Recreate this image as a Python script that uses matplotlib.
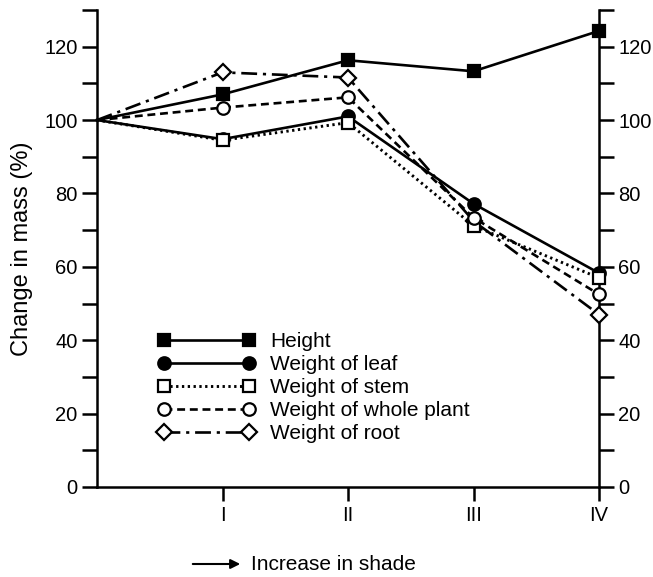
import matplotlib
matplotlib.use("Agg")
import matplotlib.pyplot as plt
from matplotlib.ticker import MultipleLocator, FixedLocator

plt.rcParams['font.family'] = ['Liberation Sans', 'DejaVu Sans']

# shade levels (0 = unshaded control)
shade_pos = [0, 1, 2, 3, 4]
shade_labels = ['I', 'II', 'III', 'IV']

height = [100, 107, 116.3, 113.3, 124.3]
leaf = [100, 94.8, 101, 77.2, 58.3]
stem = [100, 94.5, 99.3, 71.2, 57]
whole_plant = [100, 103.4, 106.2, 73.4, 52.5]
root = [100, 113, 111.6, 72.5, 47]

series_labels = ['Height', 'Weight of leaf', 'Weight of stem',
                 'Weight of whole plant', 'Weight of root']

fig = plt.figure(figsize=(6.53, 5.77), dpi=100)
ax = fig.add_axes([97 / 653, 1 - 487 / 577, (599 - 97) / 653, (487 - 10) / 577])

lw = 1.9
ms = 9
common = dict(color='black', markeredgewidth=1.6,
              markevery=[1, 2, 3, 4], clip_on=False)

ax.plot(shade_pos, height, linestyle='-', linewidth=lw, marker='s', markersize=ms,
        markerfacecolor='black', label=series_labels[0], zorder=6, **common)
ax.plot(shade_pos, leaf, linestyle='-', linewidth=lw, marker='o', markersize=ms,
        markerfacecolor='black', label=series_labels[1], zorder=4, **common)
ax.plot(shade_pos, stem, linestyle=(0, (0.8, 1.2)), linewidth=lw * 1.1, marker='s',
        markersize=ms, markerfacecolor='white', label=series_labels[2], zorder=5, **common)
ax.plot(shade_pos, whole_plant, linestyle=(0, (3, 1.8)), linewidth=lw, marker='o',
        markersize=ms, markerfacecolor='white', label=series_labels[3], zorder=5, **common)
ax.plot(shade_pos, root, linestyle=(0, (6, 2.2, 1.2, 2.2)), linewidth=lw, marker='D',
        markersize=ms - 1, markerfacecolor='white', label=series_labels[4], zorder=3, **common)

ax.set_xlim(0, 4)
ax.set_ylim(0, 130)

ax.spines['top'].set_visible(False)
for side in ['left', 'bottom', 'right']:
    ax.spines[side].set_linewidth(1.8)

ax.xaxis.set_major_locator(FixedLocator(shade_pos[1:]))
ax.set_xticklabels(shade_labels)
ax.yaxis.set_major_locator(MultipleLocator(20))
ax.yaxis.set_minor_locator(MultipleLocator(10))

ax.tick_params(axis='x', which='major', direction='out', length=10, width=1.8,
               labelsize=14.5, pad=4)
ax.tick_params(axis='y', which='both', direction='out', length=11, width=1.8,
               labelsize=14.5, pad=3, left=True, right=True,
               labelleft=True, labelright=True)

ax.set_ylabel('Change in mass (%)', fontsize=17, labelpad=8)

leg = ax.legend(loc='upper left', bbox_to_anchor=(61 / 502, (487 - 332) / 477),
                frameon=False, fontsize=15, numpoints=2, handlelength=4.65,
                handletextpad=0.75, labelspacing=0.19, borderpad=0, borderaxespad=0)

# shade direction arrow
fig.patches.append(matplotlib.patches.FancyArrowPatch(
    (190 / 653, 1 - 564 / 577), (243 / 653, 1 - 564 / 577),
    transform=fig.transFigure, arrowstyle='-|>', mutation_scale=14,
    color='black', linewidth=1.5))
fig.text(251 / 653, 1 - 564 / 577, 'Increase in shade', fontsize=15,
         va='center', ha='left')

fig.savefig('out.png', dpi=100)
